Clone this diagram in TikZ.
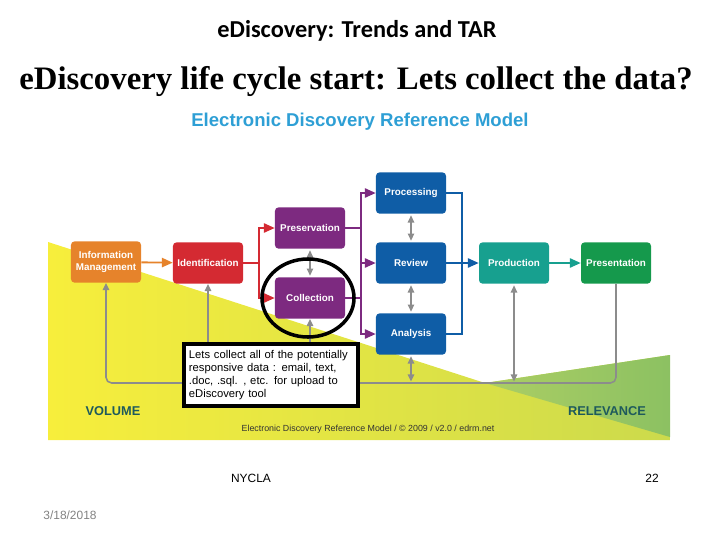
\documentclass[tikz,border=0pt]{standalone}
\usepackage{fontspec}
\setmainfont{Liberation Serif}
\setsansfont{Liberation Sans}
\newfontfamily\calibrifont{Carlito}
\usepackage{tikz}
\usetikzlibrary{shapes.geometric, arrows.meta, positioning, calc}
\definecolor{imorange}{RGB}{230,131,43}
\definecolor{idred}{RGB}{212,42,50}
\definecolor{pcpurple}{RGB}{125,42,128}
\definecolor{rvblue}{RGB}{15,93,166}
\definecolor{prteal}{RGB}{23,160,143}
\definecolor{psgreen}{RGB}{21,153,76}
\definecolor{edrmblue}{RGB}{46,159,213}
\definecolor{loopgray}{RGB}{140,140,140}
\definecolor{volyellow}{RGB}{247,238,60}
\definecolor{midgreen}{RGB}{204,218,76}
\definecolor{relgreen}{RGB}{140,193,98}
\definecolor{relgreenlt}{RGB}{172,206,100}
\definecolor{labelteal}{RGB}{30,90,92}
\definecolor{dategray}{RGB}{130,130,130}
\tikzset{
  stage/.style={rectangle, rounded corners=2.5pt, text=white,
    minimum width=1.75cm, minimum height=1.03cm, inner sep=1pt,
    align=center, font=\sffamily\bfseries\fontsize{7}{8.4}\selectfont},
  orangeblock/.style={stage, fill=imorange},
  redblock/.style={stage, fill=idred},
  purpleblock/.style={stage, fill=pcpurple},
  blueblock/.style={stage, fill=rvblue},
  tealblock/.style={stage, fill=prteal},
  greenblock/.style={stage, fill=psgreen},
  flowline/.style={line width=1.3pt},
  flowarrow/.style={flowline, -{Triangle[length=2.7mm, width=2.3mm]}},
  orangearrow/.style={flowarrow, color=imorange},
  redline/.style={flowline, color=idred},
  redarrow/.style={flowarrow, color=idred},
  purpleline/.style={flowline, color=pcpurple},
  purplearrow/.style={flowarrow, color=pcpurple},
  blueline/.style={flowline, color=rvblue},
  bluearrow/.style={flowarrow, color=rvblue},
  tealarrow/.style={flowarrow, color=prteal},
  grayarrow/.style={line width=1.1pt, color=loopgray,
    -{Triangle[length=1.8mm, width=1.6mm]}},
  graydouble/.style={line width=1.1pt, color=loopgray,
    {Triangle[length=1.8mm, width=1.6mm]}-{Triangle[length=1.8mm, width=1.6mm]},
    shorten >=1pt, shorten <=1pt},
  scalelabel/.style={font=\sffamily\bfseries\fontsize{9.1}{11}\selectfont, text=labelteal}
}
\begin{document}
\begin{tikzpicture}[x=0.025cm, y=-0.025cm]
  \useasboundingbox (0,0) rectangle (720,540);
  % Slide headings
  \node[font=\calibrifont\bfseries\fontsize{17.3}{20}\selectfont, anchor=base]
    (subtitle) at (357,37) {eDiscovery: Trends and TAR};
  \node[font=\bfseries\fontsize{23.3}{27}\selectfont, anchor=base]
    (heading) at (356,89) {eDiscovery life cycle start: Lets collect the data?};
  % Volume / relevance bands
  \shade[left color=volyellow, right color=midgreen]
    (48,242) -- (485,383) -- (670,355) -- (670,440) -- (48,440) -- cycle;
  \shade[left color=relgreenlt, right color=relgreen]
    (485,383) -- (670,355) -- (670,437) -- cycle;
  \node[font=\sffamily\bfseries\fontsize{13.2}{15}\selectfont, text=edrmblue]
    (edrm) at (360,122) {Electronic Discovery Reference Model};
  % Stages
  \node[orangeblock] (infomgmt) at (106,262) {Information\\Management};
  \node[redblock]    (ident)    at (208,263) {Identification};
  \node[purpleblock] (preserv)  at (310,228) {Preservation};
  \node[purpleblock] (collect)  at (310,298) {Collection};
  \node[blueblock]   (process)  at (411,193) {Processing};
  \node[blueblock]   (review)   at (411,263) {Review};
  \node[blueblock]   (analysis) at (411,334) {Analysis};
  \node[tealblock]   (produce)  at (514,263) {Production};
  \node[greenblock]  (present)  at (616,263) {Presentation};
  % Forward flow
  \draw[orangearrow] (infomgmt) -- (ident);
  \draw[redline] (ident.east) -- ++(16,0) coordinate (identfork);
  \draw[redarrow] (identfork) |- (preserv.west);
  \draw[redarrow] (identfork) |- (collect.west);
  \draw[purpleline] (preserv.east) -- ++(16,0) coordinate (presfork);
  \draw[purpleline] (collect.east) -- (collect.east -| presfork);
  \draw[purplearrow] (presfork) |- (process.west);
  \draw[purplearrow] (presfork) |- (review.west);
  \draw[purplearrow] (presfork) |- (analysis.west);
  \draw[blueline] (process.east) -- ++(16,0) coordinate (procfork) |- (analysis.east);
  \draw[bluearrow] (review) -- (produce);
  \draw[tealarrow] (produce) -- (present);
  % Feedback loop
  \coordinate (loop) at (0,383);
  \draw[grayarrow, rounded corners=4] (present.south) -- (present.south |- loop)
    -| (infomgmt.south);
  \draw[grayarrow] (ident.south |- loop) -- (ident.south);
  \draw[grayarrow] (collect.south |- loop) -- (collect.south);
  \draw[graydouble] (analysis.south |- loop) -- (analysis.south);
  \draw[graydouble] (produce.south |- loop) -- (produce.south);
  \draw[graydouble] (preserv) -- (collect);
  \draw[graydouble] (process) -- (review);
  \draw[graydouble] (review) -- (analysis);
  % Band labels
  \node[scalelabel] (volume) at (113,411) {VOLUME};
  \node[scalelabel] (relevance) at (607,411) {RELEVANCE};
  \node[font=\sffamily\fontsize{6.3}{7.5}\selectfont, text=black!80]
    (credit) at (368,429) {Electronic Discovery Reference Model / \textcopyright{} 2009 / v2.0 / edrm.net};
  % Callout
  \node[draw=black, line width=2.2pt, fill=white, minimum width=4.35cm,
    minimum height=1.55cm, inner xsep=0.12cm, inner ysep=0pt, align=left,
    font=\sffamily\fontsize{8}{9.3}\selectfont, text width=4.1cm]
    (note) at (271,375) {Lets collect all of the potentially\\responsive data : email, text,\\.doc, .sql. , etc. for upload to\\eDiscovery tool};
  \node[draw=black, line width=2.5pt, ellipse, minimum width=2.3cm,
    minimum height=1.95cm] (ring) at (308,298) {};
  % Footer
  \node[font=\sffamily\fontsize{8.5}{10}\selectfont] (nycla) at (251,478) {NYCLA};
  \node[font=\sffamily\fontsize{8.5}{10}\selectfont] (pagenum) at (652,478) {22};
  \node[font=\sffamily\fontsize{8.5}{10}\selectfont, text=dategray] (date) at (70,515) {3/18/2018};
\end{tikzpicture}
\end{document}
